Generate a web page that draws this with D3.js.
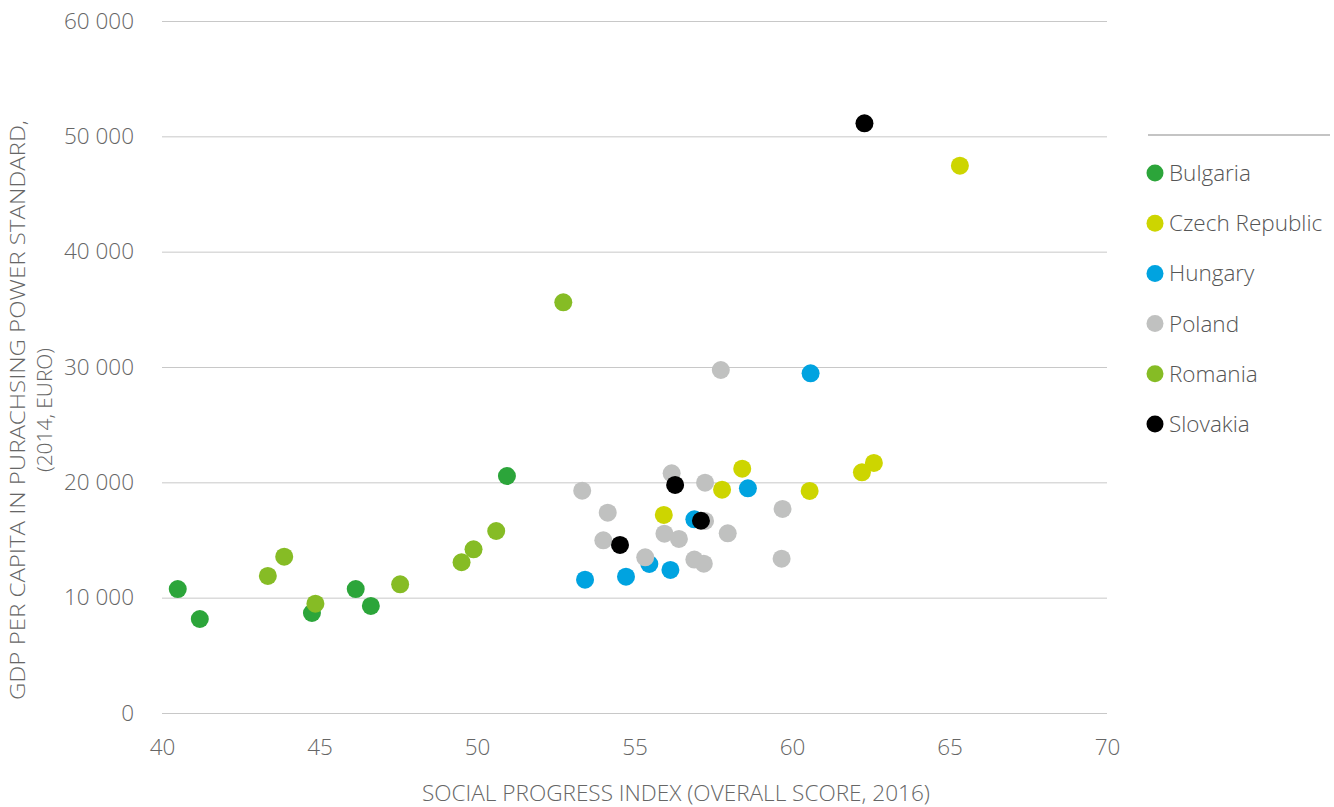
<!DOCTYPE html>
<html>
<head>
<meta charset="utf-8">
<script src="https://cdn.jsdelivr.net/npm/d3@7"></script>
<style>
  body { margin: 0; background: #fff; }
  svg text { font-family: "Open Sans", sans-serif; font-weight: 300; }
</style>
</head>
<body>
<div id="chart"></div>
<script>
// chart data
var countries = ["Bulgaria", "Czech Republic", "Hungary", "Poland", "Romania", "Slovakia"];
var countryColors = ["#2ca53a", "#cdd500", "#00a3e0", "#c0c1c0", "#86bc25", "#000000"];

var bulgariaSpi = [40.5, 41.2, 44.76, 46.15, 46.63, 50.95];
var bulgariaGdp = [10750, 8150, 8670, 10750, 9280, 20550];

var czechSpi = [55.93, 57.78, 58.42, 60.56, 62.22, 62.6, 65.33];
var czechGdp = [17170, 19360, 21180, 19250, 20870, 21680, 47460];

var hungarySpi = [53.43, 54.73, 55.47, 56.14, 56.9, 58.6, 60.59];
var hungaryGdp = [11560, 11820, 12920, 12400, 16790, 19480, 29450];

var polandSpi = [53.34, 54.15, 54.01, 56.18, 57.24, 55.95, 56.41, 55.34, 56.9, 57.2, 57.96, 59.7, 59.67, 57.24, 57.74];
var polandGdp = [19280, 17370, 14970, 20780, 19970, 15550, 15090, 13500, 13300, 12950, 15580, 17690, 13380, 16650, 29740];

var romaniaSpi = [43.36, 43.88, 44.87, 47.56, 49.51, 49.89, 50.61, 52.74];
var romaniaGdp = [11880, 13550, 9480, 11160, 13070, 14190, 15780, 35610];

var slovakiaSpi = [56.29, 54.54, 57.11, 62.3];
var slovakiaGdp = [19770, 14570, 16670, 51130];

var xTicks = [40, 45, 50, 55, 60, 65, 70];
var yTicks = [0, 10000, 20000, 30000, 40000, 50000, 60000];

var xTitle = "SOCIAL PROGRESS INDEX (OVERALL SCORE, 2016)";
var yTitle1 = "GDP PER CAPITA IN PURACHSING POWER STANDARD,";
var yTitle2 = "(2014, EURO)";

var spiSeries = [bulgariaSpi, czechSpi, hungarySpi, polandSpi, romaniaSpi, slovakiaSpi];
var gdpSeries = [bulgariaGdp, czechGdp, hungaryGdp, polandGdp, romaniaGdp, slovakiaGdp];

// layout
var svgWidth = 1334;
var svgHeight = 807;
var margin = { top: 21, right: 227, bottom: 94, left: 162 };
var width = svgWidth - margin.left - margin.right;
var height = svgHeight - margin.top - margin.bottom;

var svg = d3.select("#chart")
  .append("svg")
  .attr("width", svgWidth)
  .attr("height", svgHeight);

var chartGroup = svg.append("g")
  .attr("transform", `translate(${margin.left}, ${margin.top})`);

var xScale = d3.scaleLinear().domain([40, 70]).range([0, width]);
var yScale = d3.scaleLinear().domain([0, 60000]).range([height, 0]);

var spaceFormat = d3.formatLocale({ decimal: ".", thousands: " ", grouping: [3], currency: ["", ""] }).format(",");

// horizontal gridlines + y tick labels
var leftAxis = d3.axisLeft(yScale)
  .tickValues(yTicks)
  .tickSize(-width)
  .tickPadding(28)
  .tickFormat(spaceFormat);

var yAxis = chartGroup.append("g").call(leftAxis);
yAxis.select(".domain").remove();
yAxis.selectAll("line").attr("stroke", "#c8c8c8").attr("stroke-width", 1);
yAxis.selectAll("text")
  .attr("fill", "#666")
  .style("font-size", "22.5px");

// x tick labels, no ticks
var bottomAxis = d3.axisBottom(xScale)
  .tickValues(xTicks)
  .tickSize(0)
  .tickPadding(26);

var xAxis = chartGroup.append("g")
  .attr("transform", `translate(0, ${height})`)
  .call(bottomAxis);
xAxis.select(".domain").remove();
xAxis.selectAll("text")
  .attr("fill", "#666")
  .style("font-size", "22.5px");

// axis titles
svg.append("text")
  .attr("x", 676)
  .attr("y", 801)
  .attr("text-anchor", "middle")
  .attr("fill", "#666")
  .attr("textLength", 508)
  .attr("lengthAdjust", "spacingAndGlyphs")
  .style("font-size", "22px")
  .text(xTitle);

var yTitleGroup = svg.append("g")
  .attr("transform", "translate(0, 410) rotate(-90)");

yTitleGroup.append("text")
  .attr("x", 0)
  .attr("y", 25)
  .attr("text-anchor", "middle")
  .attr("fill", "#666")
  .attr("textLength", 580)
  .attr("lengthAdjust", "spacingAndGlyphs")
  .style("font-size", "21px")
  .text(yTitle1);

yTitleGroup.append("text")
  .attr("x", 0)
  .attr("y", 52)
  .attr("text-anchor", "middle")
  .attr("fill", "#666")
  .attr("textLength", 124)
  .attr("lengthAdjust", "spacingAndGlyphs")
  .style("font-size", "21px")
  .text(yTitle2);

// points, one group per country in legend order
countries.forEach(function (name, i) {
  var pts = spiSeries[i].map(function (v, j) { return [v, gdpSeries[i][j]]; });
  chartGroup.append("g")
    .selectAll("circle")
    .data(pts)
    .enter()
    .append("circle")
    .attr("cx", (d) => xScale(d[0]))
    .attr("cy", (d) => yScale(d[1]))
    .attr("r", 9)
    .attr("fill", countryColors[i]);
});

// legend
var legend = svg.append("g").attr("transform", "translate(1148, 135)");

legend.append("line")
  .attr("x1", 0)
  .attr("x2", 182)
  .attr("y1", 0)
  .attr("y2", 0)
  .attr("stroke", "#c4c4c4")
  .attr("stroke-width", 2);

var legendItems = legend.selectAll(".item")
  .data(countries)
  .enter()
  .append("g")
  .attr("class", "item")
  .attr("transform", (d, i) => `translate(0, ${38 + i * 50.2})`);

legendItems.append("circle")
  .attr("cx", 7)
  .attr("cy", 0)
  .attr("r", 8.5)
  .attr("fill", (d, i) => countryColors[i]);

legendItems.append("text")
  .attr("x", 21)
  .attr("y", 8)
  .attr("fill", "#555")
  .style("font-size", "22.5px")
  .text((d) => d);
</script>
</body>
</html>
